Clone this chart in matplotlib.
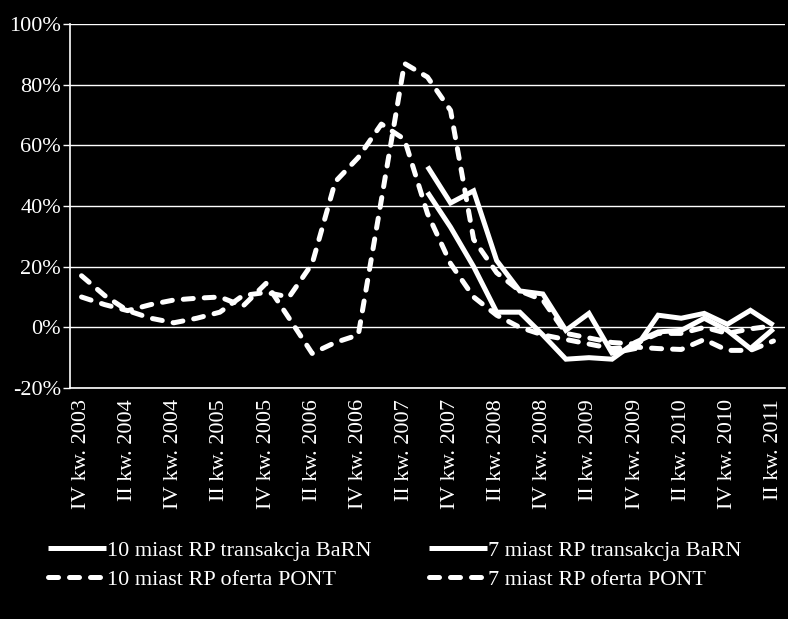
import numpy as np
import matplotlib
matplotlib.use("Agg")
import matplotlib.pyplot as plt

plt.rcParams['font.family'] = ['Liberation Serif', 'DejaVu Serif']

# ---- data ----
quarters = ["IV kw. 2003",
            "I kw. 2004", "II kw. 2004", "III kw. 2004", "IV kw. 2004",
            "I kw. 2005", "II kw. 2005", "III kw. 2005", "IV kw. 2005",
            "I kw. 2006", "II kw. 2006", "III kw. 2006", "IV kw. 2006",
            "I kw. 2007", "II kw. 2007", "III kw. 2007", "IV kw. 2007",
            "I kw. 2008", "II kw. 2008", "III kw. 2008", "IV kw. 2008",
            "I kw. 2009", "II kw. 2009", "III kw. 2009", "IV kw. 2009",
            "I kw. 2010", "II kw. 2010", "III kw. 2010", "IV kw. 2010",
            "I kw. 2011", "II kw. 2011"]

nan = np.nan
trans_10 = [nan] * 15 + [53, 41, 45, 22, 12, 11, -1, 4.6, -8.5, -7,
                         4, 3, 4.6, 1, 5.6, 0.7]
trans_7 = [nan] * 15 + [44.5, 33, 20, 5, 5, -2.5, -10.5, -10, -10.5, -5,
                        -1.5, -1, 3, -1, -7, -0.5]
oferta_10 = [17, 10.5, 5.5, 3, 1.5, 3, 5, 10.5, 11.5, 10, 21, 48, 56, 67, 62,
             37.5, 21, 10, 4, 0, -2.5, -4, -5.5, -7, -6.5, -7, -7.3, -4,
             -7.6, -7.6, -4.5]
oferta_7 = [10, 7.5, 5.5, 7.5, 9, 9.6, 10, 7, 14.5, 3, -8.6, -5, -2.5, 42, 87,
            82.5, 71.5, 29, 18, 12, 9, -2, -3.5, -5, -5.5, -2, -2, 0, -2,
            -0.5, 0.5]

series_names = ["10 miast RP transakcja BaRN", "7 miast RP transakcja BaRN",
                "10 miast RP oferta PONT", "7 miast RP oferta PONT"]

y_ticks = [-20, 0, 20, 40, 60, 80, 100]
y_tick_labels = ["-20%", "0%", "20%", "40%", "60%", "80%", "100%"]

# ---- figure ----
W, H = 788, 619
fig = plt.figure(figsize=(W / 100, H / 100), dpi=100, facecolor='black')
ax = fig.add_axes([70 / W, 1 - 388 / H, 715 / W, 364 / H], facecolor='black')

x = np.arange(len(quarters))
lw = 3.6
dash = (0, (2.0, 2.2))
series = [trans_10, trans_7, oferta_10, oferta_7]
styles = ['-', '-', dash, dash]
handles = []
for vals, st, name in zip(series, styles, series_names):
    h, = ax.plot(x, vals, color='white', lw=lw, linestyle=st,
                 solid_capstyle='butt', dash_capstyle='round',
                 solid_joinstyle='miter', label=name)
    handles.append(h)

ax.set_xlim(-0.5, len(quarters) - 0.5)
ax.set_ylim(-20, 100)
ax.set_yticks(y_ticks)
ax.set_yticklabels(y_tick_labels)
ax.set_xticks(x[::2])
ax.set_xticklabels(quarters[::2], rotation=90, va='top', ha='center')

for s in ['top', 'right']:
    ax.spines[s].set_visible(False)
for s in ['left', 'bottom']:
    ax.spines[s].set_color('white')
    ax.spines[s].set_linewidth(1.2)

ax.yaxis.grid(True, color='white', lw=1.0)
ax.set_axisbelow(True)
ax.tick_params(axis='y', colors='white', labelcolor='white', length=5,
               width=1, pad=1.5, labelsize=16)
ax.tick_params(axis='x', colors='white', labelcolor='white', length=0,
               pad=8, labelsize=16)

# legend filled column-wise: column 1 = "10 miast", column 2 = "7 miast"
order = [0, 2, 1, 3]
leg = fig.legend(handles=[handles[i] for i in order], loc='center left',
                 bbox_to_anchor=(48 / W, 1 - 565 / H), ncol=2,
                 frameon=False, fontsize=16, handlelength=2.6,
                 handletextpad=0.05, columnspacing=2.6, labelspacing=0.4,
                 borderpad=0, borderaxespad=0)
for t in leg.get_texts():
    t.set_color('white')

fig.savefig('out.png', dpi=100, facecolor='black')
